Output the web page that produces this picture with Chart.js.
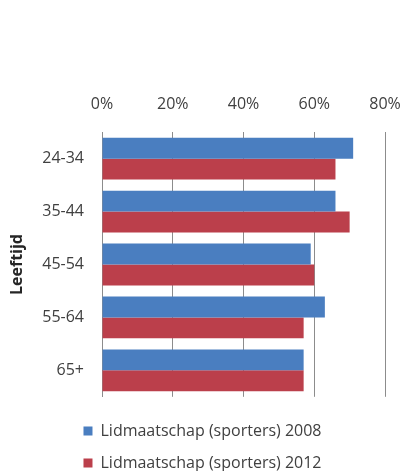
<!DOCTYPE html>
<html>
<head>
<meta charset="utf-8">
<script src="https://cdn.jsdelivr.net/npm/chart.js@4"></script>
<style>
  html, body { margin: 0; padding: 0; background: #ffffff; }
  #wrap { width: 405px; height: 471px; }
</style>
</head>
<body>
<div id="wrap"><canvas id="leeftijdChart"></canvas></div>
<script>
const ageGroups = ['24-34', '35-44', '45-54', '55-64', '65+'];
const members2008 = [71, 66, 59, 63, 57];
const members2012 = [66, 70, 60, 57, 57];
const seriesNames = ['Lidmaatschap (sporters) 2008', 'Lidmaatschap (sporters) 2012'];

const textColor = '#404040';
const fontFamily = '"Open Sans", Lato, sans-serif';

const ctx = document.getElementById('leeftijdChart').getContext('2d');
new Chart(ctx, {
    type: 'bar',
    data: {
        labels: ageGroups,
        datasets: [
            {
                label: seriesNames[0],
                data: members2008,
                backgroundColor: '#4a7ec0'
            },
            {
                label: seriesNames[1],
                data: members2012,
                backgroundColor: '#bb3f4b'
            }
        ]
    },
    options: {
        indexAxis: 'y',
        responsive: true,
        maintainAspectRatio: false,
        animation: false,
        layout: {
            padding: { top: 95, right: 14, left: 14, bottom: -10 }
        },
        scales: {
            x: {
                position: 'top',
                min: 0,
                max: 80,
                afterFit: scale => { scale.paddingRight = 20; },
                ticks: {
                    stepSize: 20,
                    padding: 0,
                    color: textColor,
                    font: { family: fontFamily, size: 16 },
                    callback: value => value + '%'
                },
                grid: {
                    color: '#8c8c8c',
                    lineWidth: 1,
                    // invisible tick marks keep the labels clear of the plot
                    drawTicks: true,
                    tickLength: 18,
                    tickColor: 'rgba(0,0,0,0)'
                },
                border: { display: false }
            },
            y: {
                afterFit: scale => { scale.width = 88; },
                ticks: {
                    padding: 18,
                    color: textColor,
                    font: { family: fontFamily, size: 16 }
                },
                grid: { display: false, drawTicks: false },
                border: { display: true, color: '#8c8c8c' },
                title: {
                    display: true,
                    text: 'Leeftijd',
                    color: '#262626',
                    font: { family: fontFamily, size: 16, weight: 'bold' },
                    padding: { top: -6, bottom: 12 }
                }
            }
        },
        datasets: {
            bar: {
                categoryPercentage: 0.79,
                barPercentage: 1.0
            }
        },
        plugins: {
            legend: {
                position: 'bottom',
                // empty title only adds space between the plot and the legend rows
                title: {
                    display: true,
                    text: '',
                    font: { size: 1 },
                    padding: { top: 0, bottom: 9 }
                },
                labels: {
                    boxWidth: 9,
                    boxHeight: 9,
                    padding: 16,
                    color: textColor,
                    font: { family: fontFamily, size: 16 }
                }
            },
            tooltip: { enabled: false }
        }
    }
});
</script>
</body>
</html>
